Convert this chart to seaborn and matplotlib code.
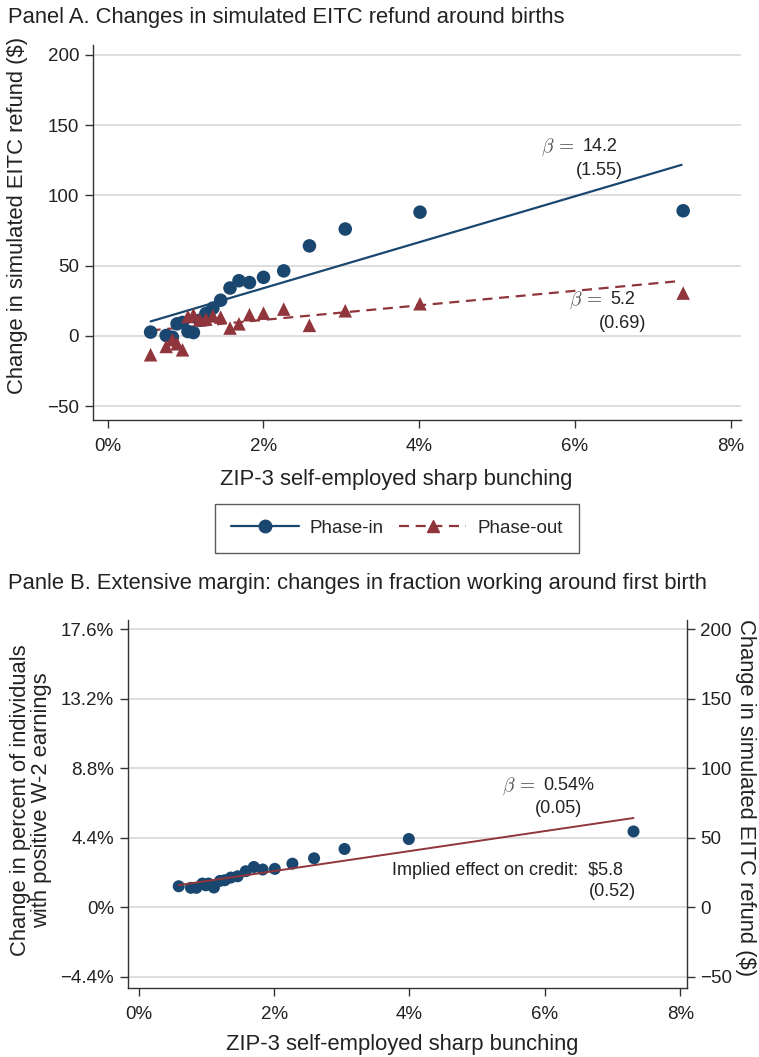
import numpy as np
import pandas as pd
import matplotlib
matplotlib.use("Agg")
import matplotlib.pyplot as plt
from matplotlib.lines import Line2D
import seaborn as sns

## Data
# Panel A: bins of ZIP-3 self-employed sharp bunching (%)
bunch_a = [0.55, 0.75, 0.83, 0.89, 0.96, 1.03, 1.10, 1.18, 1.26, 1.35,
           1.45, 1.57, 1.685, 1.82, 2.00, 2.26, 2.59, 3.05, 4.01, 7.39]
phase_in = [2.6, 0.2, -1.0, 8.5, 9.5, 3.0, 2.3, 11.0, 15.8, 19.7,
            25.3, 34.0, 39.2, 37.9, 41.6, 46.2, 64.0, 76.0, 88.0, 89.0]
phase_out = [-13.5, -7.6, -2.8, -5.7, -10.0, 13.7, 15.0, 11.4, 11.9, 14.2,
             13.3, 5.5, 8.5, 15.0, 16.1, 19.0, 7.4, 17.8, 22.8, 30.4]
fit_x_a = [0.55, 7.37]
fit_in = [10.2, 121.7]
fit_out = [3.8, 39.1]

# Panel B: extensive margin around first birth
bunch_b = [0.59, 0.77, 0.85, 0.94, 0.99, 1.03, 1.11, 1.20, 1.27, 1.36,
           1.46, 1.58, 1.70, 1.83, 2.01, 2.27, 2.59, 3.04, 3.99, 7.31]
working = [1.34, 1.24, 1.24, 1.51, 1.40, 1.51, 1.26, 1.68, 1.72, 1.89,
           1.97, 2.29, 2.56, 2.40, 2.44, 2.77, 3.11, 3.70, 4.33, 4.81]
fit_x_b = [0.59, 7.31]
fit_b = [1.41, 5.66]

xticks = [0, 2, 4, 6, 8]
xtick_labels = ["0%", "2%", "4%", "6%", "8%"]
yticks_a = [-50, 0, 50, 100, 150, 200]
ytick_labels_a = ["\u221250", "0", "50", "100", "150", "200"]
yticks_b = [-4.4, 0, 4.4, 8.8, 13.2, 17.6]
ytick_labels_b = ["\u22124.4%", "0%", "4.4%", "8.8%", "13.2%", "17.6%"]
ytick_labels_b2 = ["\u221250", "0", "50", "100", "150", "200"]

navy = "#1a476f"
maroon = "#90353b"
grid_col = "#d4d4d4"
txt = "#222222"
beta_col = "#555555"

sns.set_theme(style="white")
plt.rcParams['font.family'] = ['Liberation Sans', 'DejaVu Sans']
plt.rcParams['mathtext.fontset'] = 'cm'

TICK = 13.5
LAB = 15.8
ANN = 13

df_a = pd.DataFrame({"x": bunch_a, "pin": phase_in, "pout": phase_out})
df_b = pd.DataFrame({"x": bunch_b, "w": working})

fig = plt.figure(figsize=(7.59, 10.57), dpi=100)

def style_axis(ax, yt, ytl):
    ax.set_xticks(xticks)
    ax.set_xticklabels(xtick_labels)
    ax.set_yticks(yt)
    ax.set_yticklabels(ytl)
    for y in yt:
        ax.axhline(y, color=grid_col, lw=1.1, zorder=0)
    for s in ["top", "right"]:
        ax.spines[s].set_visible(False)
    for s in ["left", "bottom"]:
        ax.spines[s].set_color("#333333")
        ax.spines[s].set_linewidth(1.0)
    ax.tick_params(axis="both", direction="out", length=6, width=1.0,
                   colors="#333333", labelcolor=txt, labelsize=TICK,
                   left=True, bottom=True, pad=4)
    ax.tick_params(axis="x", pad=7)

def beta_text(ax, x, y, val):
    ax.text(x, y, val, ha="left", va="center", fontsize=ANN, color=txt)
    ax.annotate(r"$\beta\,=$", xy=(x, y), xytext=(-6, 0), textcoords="offset points",
                ha="right", va="center", fontsize=ANN + 1, color=beta_col)

## Panel A
ax1 = fig.add_axes([0.1225, 0.6026, 0.8535, 0.3548])
sns.scatterplot(data=df_a, x="x", y="pin", ax=ax1, color=navy, marker="o",
                s=95, edgecolor="none", zorder=3)
sns.scatterplot(data=df_a, x="x", y="pout", ax=ax1, color=maroon, marker="^",
                s=95, edgecolor="none", zorder=4)
sns.lineplot(x=fit_x_a, y=fit_in, ax=ax1, color=navy, lw=1.6, zorder=2)
ax1.plot(fit_x_a, fit_out, color=maroon, lw=1.6, ls=(0, (4.5, 3)), zorder=2)
ax1.set_xlim(-0.19, 8.13)
ax1.set_ylim(-60, 207)
style_axis(ax1, yticks_a, ytick_labels_a)
ax1.set_xlabel("ZIP-3 self-employed sharp bunching", fontsize=LAB, color=txt)
ax1.xaxis.set_label_coords((396 - 93) / 648, -(469 - 420) / 375)
ax1.set_ylabel("Change in simulated EITC refund ($)", fontsize=LAB, color=txt)
ax1.yaxis.set_label_coords(-(93 - 28) / 648, (420 - 215) / 375)

beta_text(ax1, 6.10, 134.5, "14.2")
ax1.text(6.61, 118, "(1.55)", ha="right", va="center", fontsize=ANN, color=txt)
beta_text(ax1, 6.46, 25.6, "5.2")
ax1.text(6.92, 8.5, "(0.69)", ha="right", va="center", fontsize=ANN, color=txt)

handles = [Line2D([0], [0], color=navy, lw=1.6, marker="o", markersize=9),
           Line2D([0], [0], color=maroon, lw=1.6, ls=(0, (4.5, 3)), marker="^", markersize=9)]
leg = fig.legend(handles, ["Phase-in", "Phase-out"], loc="center",
                 bbox_to_anchor=(397 / 759, 1 - 528 / 1057), ncol=2, frameon=True,
                 fancybox=False, edgecolor="#333333", fontsize=TICK, handlelength=3.6,
                 columnspacing=0.8, borderpad=0.85, handletextpad=0.6)
leg.get_frame().set_linewidth(1.0)

fig.text(8 / 759, 1 - 17 / 1057, "Panel A. Changes in simulated EITC refund around births",
         fontsize=LAB, color=txt, va="center", ha="left")

## Panel B
ax2 = fig.add_axes([0.1686, 0.0653, 0.7365, 0.3482])
sns.scatterplot(data=df_b, x="x", y="w", ax=ax2, color=navy, marker="o",
                s=75, edgecolor="none", zorder=3)
sns.lineplot(x=fit_x_b, y=fit_b, ax=ax2, color=maroon, lw=1.4, zorder=4)
ax2.set_xlim(-0.16, 8.1)
ax2.set_ylim(-5.1, 18.2)
style_axis(ax2, yticks_b, ytick_labels_b)
ax2.set_xlabel("ZIP-3 self-employed sharp bunching", fontsize=LAB, color=txt)
ax2.xaxis.set_label_coords((402 - 128) / 559, -(1034 - 988) / 368)
ax2.set_ylabel("Change in percent of individuals\nwith positive W-2 earnings",
               fontsize=LAB, color=txt, linespacing=1.0)
ax2.yaxis.set_label_coords(-(128 - 52) / 559, (988 - 800) / 368)

ax3 = ax2.twinx()
ax3.set_ylim(-5.1 * 200 / 17.6, 18.2 * 200 / 17.6)
ax3.set_yticks([-50, 0, 50, 100, 150, 200])
ax3.set_yticklabels(ytick_labels_b2)
for s in ["top", "left", "bottom"]:
    ax3.spines[s].set_visible(False)
ax3.spines["right"].set_color("#333333")
ax3.spines["right"].set_linewidth(1.0)
ax3.tick_params(axis="y", direction="out", length=6, width=1.0, colors="#333333",
                labelcolor=txt, labelsize=TICK, right=True)
ax3.set_ylabel("Change in simulated EITC refund ($)", fontsize=LAB, color=txt, rotation=-90)
ax3.yaxis.set_label_coords(1 + (756 - 687) / 559, (988 - 798) / 368)
ax3.grid(False)

beta_text(ax2, 5.98, 7.7, "0.54%")
ax2.text(6.55, 6.24, "(0.05)", ha="right", va="center", fontsize=ANN, color=txt)
ax2.text(3.74, 2.33, "Implied effect on credit:  $5.8", ha="left", va="center",
         fontsize=ANN, color=txt)
ax2.text(7.34, 1.0, "(0.52)", ha="right", va="center", fontsize=ANN, color=txt)

fig.text(8 / 759, 1 - 583 / 1057,
         "Panle B. Extensive margin: changes in fraction working around first birth",
         fontsize=LAB, color=txt, va="center", ha="left")

fig.savefig("out.png", dpi=100)
